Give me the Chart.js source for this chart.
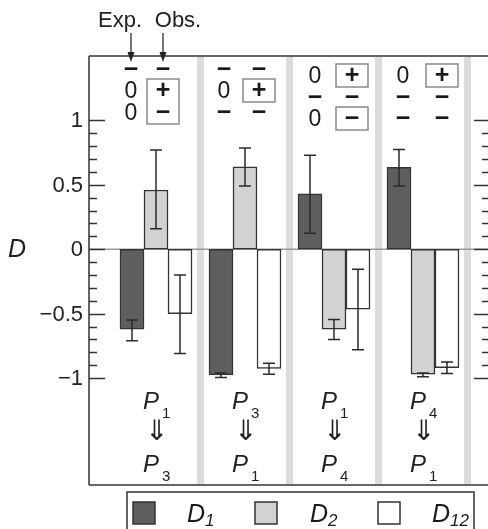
<!DOCTYPE html>
<html>
<head>
<meta charset="UTF-8" />
<title>D values</title>
<script src="https://cdn.jsdelivr.net/npm/chart.js"></script>
<style>
    html, body { margin: 0; padding: 0; background: #fff; overflow: hidden; }
    canvas { display: block; }
</style>
</head>
<body>
<canvas id="dChart" width="492" height="529"></canvas>
<script>
    // transitions P_from => P_to
    const fromState = ['1', '3', '1', '4'];
    const toState   = ['3', '1', '4', '1'];

    const d1    = [-0.62, -0.975, 0.43, 0.635];
    const d1Lo  = [-0.71, -0.995, 0.125, 0.49];
    const d1Hi  = [-0.55, -0.96, 0.73, 0.775];
    const d2    = [0.46, 0.64, -0.62, -0.97];
    const d2Lo  = [0.16, 0.49, -0.70, -0.99];
    const d2Hi  = [0.77, 0.785, -0.545, -0.96];
    const d12   = [-0.50, -0.925, -0.465, -0.92];
    const d12Lo = [-0.81, -0.97, -0.78, -0.965];
    const d12Hi = [-0.20, -0.885, -0.155, -0.875];

    const yTickLabels = ['1', '0.5', '0', '\u22120.5', '\u22121'];
    const yTickValues = [1, 0.5, 0, -0.5, -1];

    // expected / observed signs, three rows per transition
    const expSigns = [['\u2212', '0', '0'], ['\u2212', '0', '\u2212'], ['0', '\u2212', '0'], ['0', '\u2212', '\u2212']];
    const obsSigns = [['\u2212', '+', '\u2212'], ['\u2212', '+', '\u2212'], ['+', '\u2212', '\u2212'], ['+', '\u2212', '\u2212']];
    const obsBoxes = [[[1, 2]], [[1, 1]], [[0, 0], [2, 2]], [[0, 0]]];

    const seriesNames = [['D', '1'], ['D', '2'], ['D', '12']];
    const errLo = [d1Lo, d2Lo, d12Lo];
    const errHi = [d1Hi, d2Hi, d12Hi];

    const FONT = '"Liberation Sans", Arial, Helvetica, sans-serif';
    const INK = '#2b2b2b';

    const pts = arr => arr.map((v, i) => ({ x: i, y: v }));

    const decor = {
        id: 'decor',
        beforeDatasetsDraw(chart) {
            const { ctx, chartArea: a, scales: { x, y } } = chart;
            ctx.save();
            // separators between transitions
            ctx.fillStyle = '#dcdcdc';
            for (let i = 0; i < fromState.length; i++) {
                const px = x.getPixelForValue(i + 0.5);
                ctx.fillRect(px - 3.5, a.top, 7, a.bottom - a.top);
            }
            // zero line
            ctx.strokeStyle = '#9a9a9a';
            ctx.lineWidth = 1.5;
            ctx.beginPath();
            ctx.moveTo(a.left, y.getPixelForValue(0));
            ctx.lineTo(a.right, y.getPixelForValue(0));
            ctx.stroke();
            ctx.restore();
        },
        afterDatasetsDraw(chart) {
            const { ctx, chartArea: a, scales: { x, y } } = chart;
            ctx.save();

            // error bars
            ctx.strokeStyle = INK;
            ctx.lineWidth = 1.5;
            chart.data.datasets.forEach((ds, di) => {
                const meta = chart.getDatasetMeta(di);
                meta.data.forEach((bar, i) => {
                    const lo = y.getPixelForValue(errLo[di][i]);
                    const hi = y.getPixelForValue(errHi[di][i]);
                    ctx.beginPath();
                    ctx.moveTo(bar.x, lo); ctx.lineTo(bar.x, hi);
                    ctx.moveTo(bar.x - 6, lo); ctx.lineTo(bar.x + 6, lo);
                    ctx.moveTo(bar.x - 6, hi); ctx.lineTo(bar.x + 6, hi);
                    ctx.stroke();
                });
            });

            // frame
            ctx.strokeStyle = '#666';
            ctx.lineWidth = 2;
            ctx.beginPath();
            ctx.moveTo(a.left, a.top); ctx.lineTo(a.right, a.top);
            ctx.moveTo(a.left, a.bottom); ctx.lineTo(a.right, a.bottom);
            ctx.stroke();
            ctx.strokeStyle = '#333';
            ctx.lineWidth = 1.5;
            ctx.beginPath();
            ctx.moveTo(a.left, a.top); ctx.lineTo(a.left, a.bottom);
            ctx.moveTo(a.right, a.top); ctx.lineTo(a.right, a.bottom);
            ctx.stroke();

            // ticks, inward on both sides
            ctx.beginPath();
            for (let k = -10; k <= 10; k++) {
                const py = Math.round(y.getPixelForValue(k / 10)) + 0.5;
                const len = k % 5 === 0 ? 16 : 8;
                ctx.moveTo(a.left, py); ctx.lineTo(a.left + len, py);
                ctx.moveTo(a.right, py); ctx.lineTo(a.right - len, py);
            }
            ctx.stroke();

            // tick labels
            ctx.fillStyle = '#222';
            ctx.font = '22px ' + FONT;
            ctx.textAlign = 'right';
            ctx.textBaseline = 'middle';
            yTickValues.forEach((v, i) => {
                ctx.fillText(yTickLabels[i], 83, y.getPixelForValue(v) + 1);
            });
            ctx.font = 'italic 25px ' + FONT;
            ctx.textAlign = 'left';
            ctx.fillText('D', 8, y.getPixelForValue(0) + 1);

            // transition labels
            fromState.forEach((f, i) => {
                const cx = x.getPixelForValue(i);
                const drawP = (sub, base) => {
                    ctx.fillStyle = '#222';
                    ctx.font = 'italic 24px ' + FONT;
                    ctx.textAlign = 'left';
                    ctx.textBaseline = 'alphabetic';
                    ctx.fillText('P', cx - 13, base);
                    ctx.font = '15px ' + FONT;
                    ctx.fillText(sub, cx + 6, base + 9);
                };
                drawP(f, 409);
                ctx.font = '28px "DejaVu Sans", sans-serif';
                ctx.textAlign = 'center';
                ctx.textBaseline = 'middle';
                ctx.fillText('\u21d3', cx + 1, 433);
                drawP(toState[i], 472);
            });

            // Exp. / Obs. header with arrows
            ctx.fillStyle = '#222';
            ctx.font = '22px ' + FONT;
            ctx.textAlign = 'center';
            ctx.textBaseline = 'alphabetic';
            ctx.fillText('Exp.', 120, 27);
            ctx.fillText('Obs.', 178, 27);
            ctx.strokeStyle = INK;
            ctx.lineWidth = 1.3;
            [131, 163].forEach(ax => {
                ctx.beginPath();
                ctx.moveTo(ax, 33); ctx.lineTo(ax, 59);
                ctx.stroke();
                ctx.beginPath();
                ctx.moveTo(ax - 3.5, 52); ctx.lineTo(ax, 62); ctx.lineTo(ax + 3.5, 52);
                ctx.closePath();
                ctx.fill();
            });

            // sign table per transition
            const rowsY = [[70, 91, 113], [70, 91, 113], [76, 98, 119], [76, 98, 119]];
            const expDx = [-25, -21, -19, -20];
            const obsDx = [7, 14, 18, 19];
            expSigns.forEach((col, i) => {
                const cx = x.getPixelForValue(i);
                const ex = cx + expDx[i], ox = cx + obsDx[i];
                ctx.strokeStyle = '#8a8a8a';
                ctx.lineWidth = 1.5;
                obsBoxes[i].forEach(([r0, r1]) => {
                    const top = rowsY[i][r0] - 12, bot = rowsY[i][r1] + 11;
                    ctx.strokeRect(ox - 16, top, 32, bot - top);
                });
                ctx.fillStyle = '#1a1a1a';
                ctx.textAlign = 'center';
                ctx.textBaseline = 'middle';
                for (let r = 0; r < 3; r++) {
                    [[col[r], ex], [obsSigns[i][r], ox]].forEach(([s, sx]) => {
                        ctx.font = (s === '0' ? '23px ' : 'bold 25px ') + FONT;
                        ctx.fillText(s, sx, rowsY[i][r] + (s === '0' ? 1 : 0));
                    });
                }
            });

            // legend
            ctx.strokeStyle = '#333';
            ctx.lineWidth = 1.5;
            ctx.strokeRect(127, 492, 347, 50);
            const sqX = [133, 255, 378], txX = [187, 310, 432];
            chart.data.datasets.forEach((ds, di) => {
                ctx.fillStyle = ds.backgroundColor;
                ctx.fillRect(sqX[di], 502, 22, 22);
                ctx.strokeStyle = '#333';
                ctx.lineWidth = 1.5;
                ctx.strokeRect(sqX[di], 502, 22, 22);
                ctx.fillStyle = '#1a1a1a';
                ctx.textAlign = 'left';
                ctx.textBaseline = 'alphabetic';
                ctx.font = 'italic 25px ' + FONT;
                ctx.fillText(seriesNames[di][0], txX[di], 522);
                const w = ctx.measureText(seriesNames[di][0]).width;
                ctx.font = 'italic 17px ' + FONT;
                ctx.fillText(seriesNames[di][1], txX[di] + w, 526);
            });

            ctx.restore();
        }
    };

    new Chart(document.getElementById('dChart'), {
        type: 'bar',
        data: {
            datasets: [
                { label: 'D1', data: pts(d1), backgroundColor: '#5e5e5e' },
                { label: 'D2', data: pts(d2), backgroundColor: '#d2d2d3' },
                { label: 'D12', data: pts(d12), backgroundColor: '#ffffff' }
            ]
        },
        options: {
            responsive: false,
            animation: false,
            devicePixelRatio: 1,
            layout: { padding: { left: 89, right: 2, top: 56, bottom: 44 } },
            datasets: {
                bar: { barThickness: 24, borderColor: '#333', borderWidth: 1.5, borderSkipped: false }
            },
            scales: {
                x: { type: 'linear', min: -0.753, max: 3.753, display: false, offset: false },
                y: { min: -1.83, max: 1.5, display: false }
            },
            plugins: { legend: { display: false }, tooltip: { enabled: false } }
        },
        plugins: [decor]
    });
</script>
</body>
</html>
